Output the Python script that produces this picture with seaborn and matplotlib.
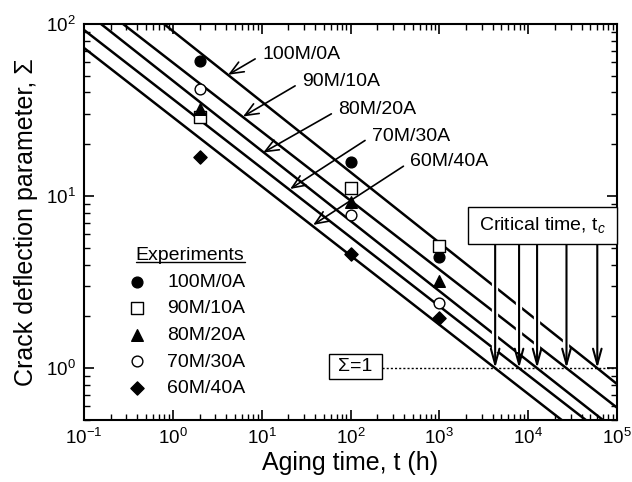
import matplotlib
matplotlib.use("Agg")
import matplotlib.pyplot as plt
from matplotlib.patches import Rectangle
from matplotlib.lines import Line2D
from matplotlib.ticker import NullFormatter
from matplotlib.transforms import IdentityTransform
import seaborn as sns

# ---- data -------------------------------------------------------------
compositions = ["100M/0A", "90M/10A", "80M/20A", "70M/30A", "60M/40A"]

# measured crack deflection parameter at each aging time (h)
aging_times = [2, 100, 1000]
sigma_100M = [61.0, 15.7, 4.4]
sigma_90M = [29.0, 11.1, 5.1]
sigma_80M = [32.0, 9.2, 3.2]
sigma_70M = [42.0, 7.8, 2.4]
sigma_60M = [16.8, 4.6, 1.95]
measured = [sigma_100M, sigma_90M, sigma_80M, sigma_70M, sigma_60M]

# fitted power-law lines: entry point, critical time (sigma = 1), exit point
line_t_start = [0.63, 0.217, 0.123, 0.08, 0.08]
line_sigma_start = [110, 110, 110, 101, 79.4]
critical_times = [6.0e4, 2.7e4, 1.26e4, 7.9e3, 4.25e3]
line_t_end = [1.2e5, 1.2e5, 9.0e4, 5.8e4, 3.1e4]
line_sigma_end = [0.75, 0.548, 0.45, 0.45, 0.45]

# points on each fitted line that the composition labels point to
label_tip_t = [4.19, 6.17, 10.4, 20.9, 38.0]
label_tip_sigma = [50.7, 29.0, 17.9, 11.0, 6.8]

# axis decades
x_decades = [1e-1, 1e0, 1e1, 1e2, 1e3, 1e4, 1e5]
y_decades = [1e0, 1e1, 1e2]

# ---- style ------------------------------------------------------------
sns.set_style("ticks")
plt.rcParams.update({
    "font.family": ["Liberation Sans", "DejaVu Sans"],
    "mathtext.fontset": "custom",
    "mathtext.rm": "Liberation Sans",
    "mathtext.it": "Liberation Sans:italic",
    "mathtext.bf": "Liberation Sans:bold",
    "axes.linewidth": 1.5,
    "axes.edgecolor": "black",
    "text.color": "black",
    "axes.labelcolor": "black",
    "xtick.color": "black",
    "ytick.color": "black",
    "xtick.direction": "in",
    "ytick.direction": "in",
    "xtick.top": True,
    "ytick.right": True,
    "xtick.minor.visible": True,
    "ytick.minor.visible": True,
    "xtick.major.size": 7,
    "ytick.major.size": 7,
    "xtick.minor.size": 4,
    "ytick.minor.size": 4,
    "xtick.major.width": 1.2,
    "ytick.major.width": 1.2,
    "xtick.minor.width": 1.0,
    "ytick.minor.width": 1.0,
    "xtick.labelsize": 13.5,
    "ytick.labelsize": 13.5,
    "xtick.major.pad": 6,
    "ytick.major.pad": 6,
})

fig = plt.figure(figsize=(6.32, 4.82), dpi=100)
ax = fig.add_axes([84 / 632, 1 - 420 / 482, 533 / 632, 396 / 482])
ax.set_xscale("log")
ax.set_yscale("log")

# fitted lines
for i in range(len(compositions)):
    sns.lineplot(
        x=[line_t_start[i], critical_times[i], line_t_end[i]],
        y=[line_sigma_start[i], 1.0, line_sigma_end[i]],
        color="black", linewidth=1.8, sort=False, estimator=None,
        legend=False, ax=ax,
    )

# experimental points
marker_styles = [
    ("o", "black", 60),
    ("s", "white", 75),
    ("^", "black", 70),
    ("o", "white", 60),
    ("D", "black", 45),
]
for name, vals, (m, fc, s) in zip(compositions, measured, marker_styles):
    sns.scatterplot(
        x=aging_times, y=vals, marker=m, s=s, facecolor=fc,
        edgecolor="black", linewidth=1.0, label=name, zorder=4, ax=ax,
    )

ax.set_xticks(x_decades)
ax.set_yticks(y_decades)
ax.set_xlim(0.1, 1e5)
ax.set_ylim(0.5, 100)
ax.xaxis.set_minor_formatter(NullFormatter())
ax.yaxis.set_minor_formatter(NullFormatter())

ax.set_xlabel("Aging time, t (h)", fontsize=18, labelpad=2)
ax.set_ylabel("Crack deflection parameter, \u03a3", fontsize=18, labelpad=6)

# labels pointing at each fitted line
label_pos = [(0.334, 0.922), (0.409, 0.854), (0.477, 0.783),
             (0.540, 0.717), (0.612, 0.652)]
for name, (fx, fy), tt, ts in zip(compositions, label_pos, label_tip_t, label_tip_sigma):
    ax.annotate(
        name, xy=(tt, ts), xycoords="data", xytext=(fx, fy),
        textcoords="axes fraction", ha="left", va="center", fontsize=14,
        arrowprops=dict(arrowstyle="->,head_length=0.6,head_width=0.25",
                        lw=1.2, color="black", shrinkA=3, shrinkB=0,
                        relpos=(0, 0.5), mutation_scale=16),
    )

# critical time box and arrows down to sigma = 1
box_top_sigma = 5.35
ax.vlines(critical_times, 1.25, box_top_sigma - 0.1, colors="white",
          linewidth=4.5, zorder=2.5)
for tc in critical_times:
    ax.annotate(
        "", xy=(tc, 1.0), xytext=(tc, box_top_sigma),
        arrowprops=dict(arrowstyle="->,head_length=0.8,head_width=0.22",
                        lw=1.5, color="black", shrinkA=0, shrinkB=0,
                        mutation_scale=14),
        zorder=3,
    )
ax.add_patch(Rectangle((0.7205, 0.4444), 0.2795, 0.0934, transform=ax.transAxes,
                       facecolor="white", edgecolor="black", linewidth=1.0,
                       zorder=5, clip_on=False))
ax.text(0.8602, 0.4912, "Critical time, $\\mathrm{t}_{c}$", transform=ax.transAxes,
        ha="center", va="center", fontsize=14, zorder=6)

# sigma = 1 threshold
ax.plot([227, 1e5], [1.0, 1.0], color="black", linewidth=1.0,
        linestyle=(0, (1.5, 1.5)), zorder=2)
ax.add_patch(Rectangle((0.4597, 0.1035), 0.0994, 0.0631, transform=ax.transAxes,
                       facecolor="white", edgecolor="black", linewidth=1.0,
                       zorder=5))
ax.text(0.5094, 0.1351, "\u03a3=1", transform=ax.transAxes,
        ha="center", va="center", fontsize=14, zorder=6)

# legend of experimental points
handles, labels = ax.get_legend_handles_labels()
leg = ax.legend(
    handles, labels, title="Experiments", frameon=False, loc="upper left",
    bbox_to_anchor=(0.0957, 0.436), fontsize=14, title_fontsize=14,
    handlelength=0.2, handletextpad=1.45, labelspacing=0.46,
    borderpad=0, borderaxespad=0,
)

fig.canvas.draw()
bb = leg.get_title().get_window_extent(fig.canvas.get_renderer())
fig.add_artist(Line2D([bb.x0, bb.x1], [bb.y0 + 2.5, bb.y0 + 2.5],
                      transform=IdentityTransform(), color="black", linewidth=1.0))

fig.savefig("out.png", dpi=100)
